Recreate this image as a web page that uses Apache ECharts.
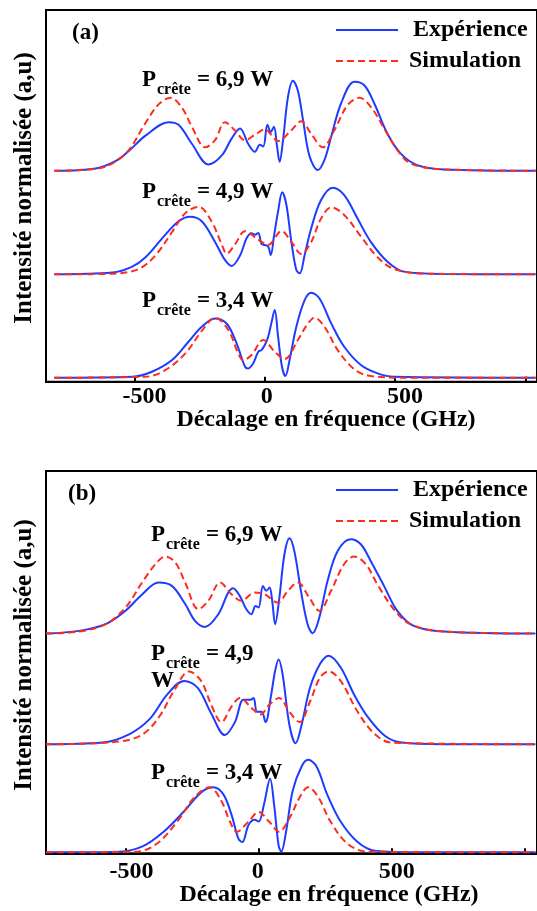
<!DOCTYPE html>
<html><head><meta charset="utf-8">
<script src="https://cdn.jsdelivr.net/npm/echarts@6/dist/echarts.min.js"></script>
<style>html,body{margin:0;padding:0;background:#fff}#c{width:537px;height:911px}</style>
</head><body><div id="c"></div>
<script>
// ---------- Data (frequency GHz, normalised intensity) ----------
const tickValues = [-500, 0, 500, 1000];
const labelValues = [-500, 0, 500];
const powers = ['6,9 W', '4,9 W', '3,4 W'];

// Panel (a)
const expA69 = [[-808,0],[-649,0.026],[-572,0.11],[-522,0.22],[-458,0.39],[-369,0.54],[-331,0.51],[-280,0.30],[-216,0.07],[-165,0.17],[-127,0.36],[-95,0.47],[-64,0.30],[-38,0.21],[-19,0.29],[-6,0.27],[10,0.51],[23,0.43],[35,0.49],[47,0.27],[57,0.10],[70,0.34],[89,0.82],[108,1.0],[127,0.89],[147,0.56],[172,0.16],[204,0.007],[229,0.12],[255,0.38],[293,0.75],[344,0.99],[382,0.95],[420,0.75],[471,0.41],[522,0.19],[585,0.063],[687,0.015],[1040,0]];
const simA69 = [[-808,0],[-649,0.022],[-585,0.081],[-522,0.23],[-458,0.53],[-407,0.74],[-362,0.81],[-318,0.70],[-280,0.49],[-229,0.26],[-191,0.34],[-153,0.54],[-115,0.45],[-76,0.34],[-38,0.40],[0,0.46],[51,0.33],[102,0.45],[140,0.55],[178,0.41],[223,0.26],[267,0.45],[318,0.73],[363,0.81],[407,0.71],[458,0.47],[509,0.23],[560,0.081],[687,0.015],[1040,0]];
const expA49 = [[-808,0],[-585,0.019],[-509,0.085],[-458,0.19],[-394,0.40],[-331,0.59],[-287,0.64],[-242,0.59],[-191,0.36],[-153,0.16],[-127,0.093],[-95,0.21],[-70,0.40],[-51,0.456],[-38,0.44],[-25,0.46],[-13,0.34],[0,0.326],[13,0.31],[23,0.215],[35,0.42],[51,0.70],[67,0.911],[83,0.77],[102,0.36],[121,0.048],[134,0.011],[153,0.215],[178,0.51],[216,0.826],[261,0.963],[305,0.88],[356,0.62],[407,0.36],[471,0.14],[534,0.03],[687,0.004],[1040,0]];
const simA49 = [[-808,0],[-585,0.007],[-484,0.06],[-420,0.21],[-356,0.47],[-305,0.68],[-254,0.75],[-204,0.585],[-165,0.33],[-146,0.23],[-115,0.33],[-76,0.48],[-25,0.385],[13,0.33],[64,0.48],[102,0.36],[140,0.226],[178,0.36],[216,0.62],[255,0.744],[305,0.66],[369,0.42],[433,0.19],[496,0.059],[623,0.007],[1040,0]];
const expA34 = [[-808,0],[-509,0.011],[-433,0.067],[-356,0.196],[-293,0.40],[-242,0.567],[-191,0.659],[-146,0.60],[-108,0.38],[-76,0.122],[-64,0.104],[-45,0.159],[-25,0.289],[-13,0.307],[0,0.363],[13,0.456],[25,0.604],[38,0.752],[51,0.456],[66,0.122],[79,0.019],[95,0.196],[121,0.567],[153,0.863],[178,0.944],[210,0.881],[255,0.604],[305,0.344],[369,0.141],[433,0.048],[496,0.011],[1040,0]];
const simA34 = [[-808,0],[-458,0.011],[-382,0.085],[-305,0.27],[-242,0.52],[-191,0.667],[-140,0.53],[-102,0.27],[-83,0.196],[-51,0.252],[-6,0.419],[38,0.289],[76,0.207],[127,0.419],[165,0.60],[191,0.667],[229,0.567],[280,0.307],[344,0.093],[407,0.019],[560,0],[1040,0]];

// Panel (b)
const expB69 = [[-799,0],[-675,0.028],[-575,0.098],[-500,0.24],[-438,0.41],[-376,0.535],[-326,0.50],[-276,0.31],[-239,0.133],[-202,0.07],[-152,0.20],[-114,0.43],[-96,0.476],[-71,0.395],[-46,0.255],[-27,0.203],[-12,0.29],[0,0.273],[16,0.50],[29,0.448],[41,0.483],[51,0.343],[62,0.098],[78,0.378],[97,0.832],[116,1.0],[134,0.867],[159,0.448],[184,0.098],[203,0.0035],[228,0.168],[259,0.552],[297,0.867],[346,0.99],[384,0.937],[421,0.762],[471,0.50],[521,0.238],[583,0.08],[695,0.021],[1040,0]];
const simB69 = [[-799,0],[-675,0.021],[-575,0.098],[-500,0.273],[-438,0.535],[-388,0.727],[-351,0.808],[-313,0.745],[-276,0.535],[-226,0.255],[-189,0.343],[-145,0.535],[-102,0.413],[-65,0.343],[-15,0.43],[22,0.413],[72,0.325],[110,0.448],[147,0.535],[190,0.378],[228,0.238],[272,0.448],[321,0.727],[359,0.808],[403,0.727],[446,0.517],[508,0.255],[570,0.098],[695,0.021],[1040,0]];
const expB49 = [[-799,0],[-587,0.018],[-485,0.108],[-408,0.269],[-344,0.521],[-280,0.665],[-229,0.593],[-178,0.323],[-127,0.097],[-89,0.233],[-57,0.467],[-31,0.467],[-19,0.485],[-6,0.341],[11,0.341],[26,0.233],[45,0.485],[62,0.772],[75,0.89],[90,0.737],[116,0.198],[139,0.011],[161,0.198],[193,0.593],[231,0.844],[263,0.93],[308,0.808],[359,0.521],[410,0.287],[474,0.09],[537,0.018],[691,0],[1040,0]];
const simB49 = [[-799,0],[-524,0.029],[-434,0.108],[-370,0.305],[-319,0.557],[-261,0.765],[-216,0.665],[-178,0.413],[-140,0.233],[-102,0.395],[-70,0.485],[-25,0.377],[7,0.313],[39,0.413],[77,0.485],[116,0.341],[154,0.233],[193,0.449],[231,0.701],[263,0.765],[308,0.665],[372,0.341],[436,0.108],[500,0.018],[1040,0]];
const expB34 = [[-799,0],[-524,0.007],[-434,0.065],[-357,0.216],[-280,0.431],[-216,0.629],[-171,0.683],[-133,0.611],[-102,0.395],[-76,0.144],[-61,0.108],[-38,0.287],[-15,0.341],[0,0.323],[20,0.503],[43,0.772],[58,0.503],[75,0.072],[85,0.007],[103,0.216],[128,0.647],[161,0.898],[186,0.97],[218,0.898],[257,0.611],[308,0.323],[372,0.108],[436,0.018],[600,0],[1040,0]];
const simB34 = [[-799,0],[-460,0.007],[-383,0.09],[-306,0.323],[-242,0.575],[-184,0.683],[-140,0.539],[-108,0.323],[-82,0.216],[-38,0.323],[0,0.424],[39,0.323],[77,0.216],[116,0.359],[154,0.575],[186,0.683],[225,0.575],[270,0.323],[334,0.09],[410,0.007],[1040,0]];

// ---------- Layout / style ----------
const BLUE = '#1e3cff', RED = '#ff2b1c';
const FONT = 'Liberation Serif';
const offsetsA = [2.3, 1.149, 0];
const offsetsB = [2.295, 1.133, 0];
const expA = [expA69, expA49, expA34], simA = [simA69, simA49, simA34];
const expB = [expB69, expB49, expB34], simB = [simB69, simB49, simB34];

function mk(name, data, off, gi, color, dashed) {
  return {
    name: name, type: 'line', xAxisIndex: gi, yAxisIndex: gi,
    data: data.map(p => [p[0], p[1] + off]),
    smooth: 0.35, symbol: 'none', showSymbol: false, silent: true,
    lineStyle: { color: color, width: 2, type: dashed ? [7, 4] : 'solid' },
    itemStyle: { color: color }, z: dashed ? 3 : 2
  };
}
const series = [];
[0,1,2].forEach(i => series.push(mk('Expérience', expA[i], offsetsA[i], 0, BLUE, false)));
[0,1,2].forEach(i => series.push(mk('Simulation', simA[i], offsetsA[i], 0, RED, true)));
[0,1,2].forEach(i => series.push(mk('Expérience', expB[i], offsetsB[i], 1, BLUE, false)));
[0,1,2].forEach(i => series.push(mk('Simulation', simB[i], offsetsB[i], 1, RED, true)));

function xAx(gi, min, max, shifts, margin) {
  const st = s => ({ fontFamily: FONT, fontWeight: 'bold', fontSize: 24, color: '#000', padding: s >= 0 ? [0,0,0,s*2] : [0,-s*2,0,0] });
  return {
    type: 'value', gridIndex: gi, min: min, max: max,
    axisLine: { show: true, onZero: false, lineStyle: { color: '#000', width: 2 } },
    axisTick: { show: true, inside: true, length: 5, customValues: tickValues, lineStyle: { color: '#000', width: 2 } },
    splitLine: { show: false },
    axisLabel: {
      customValues: labelValues, margin: margin,
      formatter: v => '{s' + (labelValues.indexOf(v)) + '|' + v + '}',
      rich: { s0: st(shifts[0]), s1: st(shifts[1]), s2: st(shifts[2]) }
    }
  };
}
function yAx(gi, min, max) {
  return {
    type: 'value', gridIndex: gi, min: min, max: max,
    axisLine: { show: true, onZero: false, lineStyle: { color: '#000', width: 2 } },
    axisTick: { show: false }, axisLabel: { show: false }, splitLine: { show: false }
  };
}

function txt(t, x, y, size, align, rot) {
  return { type: 'text', x: x, y: y, rotation: rot || 0, silent: true, z: 100,
    style: { text: t, fill: '#000', font: 'bold ' + size + 'px "' + FONT + '"', align: align || 'left', verticalAlign: 'middle' } };
}
const graphics = [];
function plabel(x, y, rest) {
  graphics.push(txt('P', x, y, 23));
  graphics.push(txt('crête', x + 15, y + 9.5, 16));
  graphics.push(txt(rest, x + 55, y, 23));
}
plabel(142, 80, '= ' + powers[0]);
plabel(142, 192, '= ' + powers[1]);
plabel(142, 301, '= ' + powers[2]);
plabel(151, 535, '= ' + powers[0]);
plabel(151, 654, '= 4,9');
graphics.push(txt('W', 151, 681, 23));
plabel(151, 773, '= ' + powers[2]);
graphics.push(txt('(a)', 72, 33, 23));
graphics.push(txt('(b)', 68, 494, 23));
graphics.push(txt('Décalage en fréquence (GHz)', 326, 420, 24, 'center'));
graphics.push(txt('Décalage en fréquence (GHz)', 329, 895, 24, 'center'));
graphics.push(txt('Intensité normalisée (a,u)', 25, 188, 25, 'center', Math.PI / 2));
graphics.push(txt('Intensité normalisée (a,u)', 25, 655, 25, 'center', Math.PI / 2));

function lg(top) {
  return {
    top: top, left: 335, padding: 0, orient: 'vertical', itemWidth: 62, itemHeight: 14, itemGap: 7,
    selectedMode: false,
    itemStyle: { opacity: 0 },
    data: ['Expérience', 'Simulation'],
    formatter: n => n === 'Expérience' ? '{e|' + n + '}' : '{s|' + n + '}',
    textStyle: {
      rich: {
        e: { fontFamily: FONT, fontWeight: 'bold', fontSize: 24, color: '#000', padding: [0,0,0,10], lineHeight: 24 },
        s: { fontFamily: FONT, fontWeight: 'bold', fontSize: 24, color: '#000', padding: [0,0,0,6], lineHeight: 24 }
      }
    }
  };
}

const chart = echarts.init(document.getElementById('c'), null, { renderer: 'canvas' });
chart.setOption({
  animation: false,
  backgroundColor: '#fff',
  grid: [
    { left: 46, top: 10, right: -3, height: 371.7, show: true, borderColor: '#000', borderWidth: 2 },
    { left: 46, top: 471, right: -3, height: 382.3, show: true, borderColor: '#000', borderWidth: 2 }
  ],
  xAxis: [xAx(0, -840, 1045, [10, 2, 10], 3), xAx(1, -799, 1046, [6, -1, 5], 6)],
  yAxis: [yAx(0, -0.044, 4.086), yAx(1, -0.01, 4.0)],
  legend: [lg(18), lg(478)],
  series: series,
  graphic: graphics
});
</script></body></html>
